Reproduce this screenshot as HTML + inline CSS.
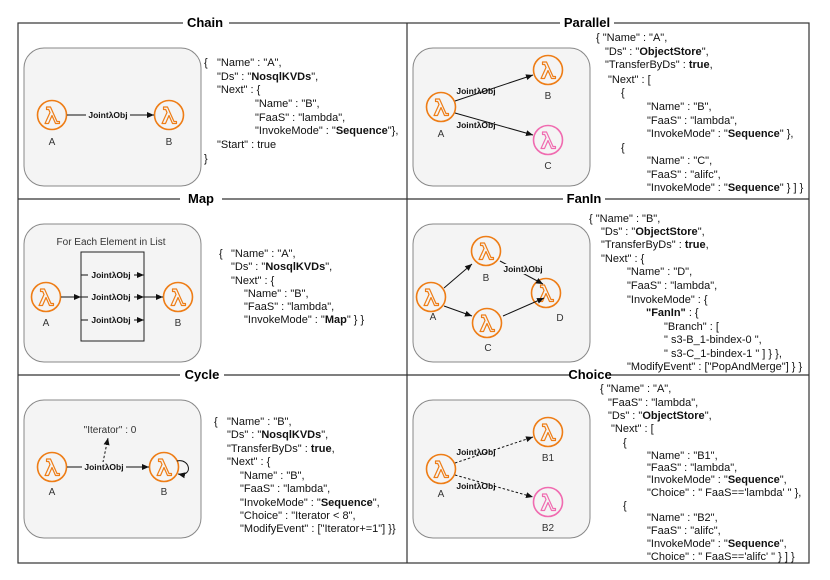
<!DOCTYPE html>
<html><head><meta charset="utf-8"><style>
html,body{margin:0;padding:0;background:#fff}
svg text{font-family:"Liberation Sans",sans-serif}
.c{font-size:11px;fill:#111}
.t{font-size:13px;font-weight:bold;fill:#000}
.l{font-size:10px;fill:#333}
.j{font-size:8.5px;font-weight:bold;fill:#111}
.box{fill:#f4f4f4;stroke:#888;stroke-width:1}
</style></head><body>
<svg width="830" height="575" viewBox="0 0 830 575" xmlns="http://www.w3.org/2000/svg">
<defs>
<marker id="ar" markerWidth="8" markerHeight="8" refX="7" refY="4" orient="auto" markerUnits="userSpaceOnUse"><path d="M0,1 L7,4 L0,7 Z" fill="#111"/></marker>
<g id="lam"><path d="M-5.5,-8 L-1.5,-8 L5,6.5 L7.5,6.5 L7.5,8.5 L3.5,8.5 L0,0.5 L-3.5,8.5 L-7,8.5 L-2,-2.5 L-3.3,-5.5 L-5.5,-5.5 Z" fill="none" stroke="currentColor" stroke-width="1.2" stroke-linejoin="round"/></g>
</defs>
<g stroke="#333" stroke-width="1.2" fill="none">
<rect x="18" y="23" width="791" height="540"/>
<line x1="407" y1="23" x2="407" y2="563"/>
<line x1="18" y1="199" x2="809" y2="199"/>
<line x1="18" y1="375" x2="809" y2="375"/>
</g>
<g class="t" text-anchor="middle">
<rect x="183" y="15" width="46" height="14" fill="#fff"/><text x="205" y="27">Chain</text>
<rect x="560" y="15" width="54" height="14" fill="#fff"/><text x="587" y="27">Parallel</text>
<rect x="180" y="191" width="42" height="14" fill="#fff"/><text x="201" y="203">Map</text>
<rect x="563" y="191" width="42" height="14" fill="#fff"/><text x="584" y="203">FanIn</text>
<rect x="180" y="367" width="44" height="14" fill="#fff"/><text x="202" y="379">Cycle</text>
<rect x="570" y="367" width="40" height="14" fill="#fff"/><text x="590" y="379">Choice</text>
</g>
<rect class="box" x="24" y="48" width="177" height="138" rx="20"/>
<rect class="box" x="413" y="48" width="177" height="138" rx="20"/>
<rect class="box" x="24" y="224" width="177" height="138" rx="20"/>
<rect class="box" x="413" y="224" width="177" height="138" rx="20"/>
<rect class="box" x="24" y="400" width="177" height="138" rx="20"/>
<rect class="box" x="413" y="400" width="177" height="138" rx="20"/>

<g fill="none" stroke-width="1.6">
<g stroke="#ee7d16" color="#ee7d16">
<circle cx="52" cy="115" r="14.5"/><use href="#lam" x="52" y="115"/>
<circle cx="169" cy="115" r="14.5"/><use href="#lam" x="169" y="115"/>
<circle cx="441" cy="107" r="14.5"/><use href="#lam" x="441" y="107"/>
<circle cx="548" cy="70" r="14.5"/><use href="#lam" x="548" y="70"/>
<circle cx="46" cy="297" r="14.5"/><use href="#lam" x="46" y="297"/>
<circle cx="178" cy="297" r="14.5"/><use href="#lam" x="178" y="297"/>
<circle cx="431" cy="297" r="14.5"/><use href="#lam" x="431" y="297"/>
<circle cx="486" cy="251" r="14.5"/><use href="#lam" x="486" y="251"/>
<circle cx="487" cy="323" r="14.5"/><use href="#lam" x="487" y="323"/>
<circle cx="546" cy="293" r="14.5"/><use href="#lam" x="546" y="293"/>
<circle cx="52" cy="467" r="14.5"/><use href="#lam" x="52" y="467"/>
<circle cx="164" cy="467" r="14.5"/><use href="#lam" x="164" y="467"/>
<circle cx="441" cy="469" r="14.5"/><use href="#lam" x="441" y="469"/>
<circle cx="548" cy="432" r="14.5"/><use href="#lam" x="548" y="432"/>
</g>
<g stroke="#f06bb0" color="#f06bb0">
<circle cx="548" cy="140" r="14.5"/><use href="#lam" x="548" y="140"/>
<circle cx="548" cy="502" r="14.5"/><use href="#lam" x="548" y="502"/>
</g>
</g>
<g class="l" text-anchor="middle">
<text x="52" y="145">A</text><text x="169" y="145">B</text>
<text x="441" y="137">A</text><text x="548" y="99">B</text><text x="548" y="169">C</text>
<text x="46" y="326">A</text><text x="178" y="326">B</text>
<text x="433" y="320">A</text><text x="486" y="281">B</text><text x="488" y="351">C</text><text x="560" y="321">D</text>
<text x="52" y="495">A</text><text x="164" y="495">B</text>
<text x="441" y="497">A</text><text x="548" y="461">B1</text><text x="548" y="531">B2</text>
</g>
<g stroke="#111" stroke-width="1" fill="none" marker-end="url(#ar)">
<line x1="67" y1="115" x2="154" y2="115"/>
<line x1="455" y1="101" x2="533" y2="75"/>
<line x1="455" y1="113" x2="533" y2="135"/>
<line x1="61" y1="297" x2="81" y2="297"/>
<line x1="144" y1="297" x2="163" y2="297"/>
<line x1="81" y1="275" x2="144" y2="275"/>
<line x1="81" y1="297" x2="144" y2="297"/>
<line x1="81" y1="320" x2="144" y2="320"/>
<line x1="444" y1="288" x2="472" y2="264"/>
<line x1="444" y1="306" x2="472" y2="316"/>
<line x1="500" y1="261" x2="543" y2="284" />
<line x1="503" y1="316" x2="544" y2="298"/>
<line x1="67" y1="467" x2="149" y2="467"/>
<path d="M177,461 C190,458 194,477 178,474"/>
</g>
<g stroke="#111" stroke-width="1" fill="none" stroke-dasharray="2.5,2" marker-end="url(#ar)">
<line x1="102" y1="467" x2="108" y2="438"/>
<line x1="455" y1="463" x2="533" y2="437"/>
<line x1="455" y1="475" x2="533" y2="497"/>
</g>
<rect x="81" y="252" width="63" height="89" fill="none" stroke="#222" stroke-width="1"/>
<g class="j" text-anchor="middle">
<rect x="86" y="110" width="44" height="10" fill="#f4f4f4"/><text x="108" y="118">JointλObj</text>
<text x="476" y="94">JointλObj</text><text x="476" y="128">JointλObj</text>
<rect x="88" y="270" width="46" height="10" fill="#f4f4f4"/><text x="111" y="278">JointλObj</text>
<rect x="88" y="292" width="46" height="10" fill="#f4f4f4"/><text x="111" y="300">JointλObj</text>
<rect x="88" y="315" width="46" height="10" fill="#f4f4f4"/><text x="111" y="323">JointλObj</text>
<rect x="502" y="264" width="44" height="10" fill="#f4f4f4"/><text x="523" y="272">JointλObj</text>
<rect x="82" y="462" width="44" height="10" fill="#f4f4f4"/><text x="104" y="470">JointλObj</text>
<text x="476" y="455">JointλObj</text><text x="476" y="489">JointλObj</text>
</g>
<text class="l" x="111" y="245" text-anchor="middle">For Each Element in List</text>
<text class="l" x="110" y="433" text-anchor="middle" fill="#111">"Iterator" : 0</text>

<g class="c">
<text x="204" y="66">{</text>
<text x="217" y="66">"Name" : "A",</text>
<text x="217" y="80">"Ds" : "<tspan font-weight="bold">NosqlKVDs</tspan>",</text>
<text x="217" y="93">"Next" : {</text>
<text x="255" y="107">"Name" : "B",</text>
<text x="255" y="121">"FaaS" : "lambda",</text>
<text x="255" y="134">"InvokeMode" : "<tspan font-weight="bold">Sequence</tspan>"},</text>
<text x="217" y="148">"Start" : true</text>
<text x="204" y="162">}</text>
</g>
<g class="c">
<text x="596" y="41">{  "Name" : "A",</text>
<text x="605" y="55">"Ds" : "<tspan font-weight="bold">ObjectStore</tspan>",</text>
<text x="605" y="68">"TransferByDs" : <tspan font-weight="bold">true</tspan>,</text>
<text x="608" y="83">"Next" : [</text>
<text x="621" y="96">{</text>
<text x="647" y="110">"Name" : "B",</text>
<text x="647" y="124">"FaaS" : "lambda",</text>
<text x="647" y="137">"InvokeMode" : "<tspan font-weight="bold">Sequence</tspan>" },</text>
<text x="621" y="151">{</text>
<text x="647" y="164">"Name" : "C",</text>
<text x="647" y="178">"FaaS" : "alifc",</text>
<text x="647" y="191">"InvokeMode" : "<tspan font-weight="bold">Sequence</tspan>" } ] }</text>
</g>
<g class="c">
<text x="219" y="257">{</text>
<text x="231" y="257">"Name" : "A",</text>
<text x="231" y="270">"Ds" : "<tspan font-weight="bold">NosqlKVDs</tspan>",</text>
<text x="231" y="284">"Next" : {</text>
<text x="244" y="297">"Name" : "B",</text>
<text x="244" y="310">"FaaS" : "lambda",</text>
<text x="244" y="323">"InvokeMode" : "<tspan font-weight="bold">Map</tspan>" } }</text>
</g>
<g class="c">
<text x="589" y="222">{  "Name" : "B",</text>
<text x="601" y="235">"Ds" : "<tspan font-weight="bold">ObjectStore</tspan>",</text>
<text x="601" y="248">"TransferByDs" : <tspan font-weight="bold">true</tspan>,</text>
<text x="601" y="262">"Next" : {</text>
<text x="627" y="275">"Name" : "D",</text>
<text x="627" y="289">"FaaS" : "lambda",</text>
<text x="627" y="303">"InvokeMode" : {</text>
<text x="646" y="316"><tspan font-weight="bold">"FanIn"</tspan> : {</text>
<text x="664" y="330">"Branch" : [</text>
<text x="664" y="343">" s3-B_1-bindex-0 ",</text>
<text x="664" y="357">" s3-C_1-bindex-1 " ] } },</text>
<text x="627" y="370">"ModifyEvent" : ["PopAndMerge"] } }</text>
</g>
<g class="c">
<text x="214" y="425">{</text>
<text x="227" y="425">"Name" : "B",</text>
<text x="227" y="438">"Ds" : "<tspan font-weight="bold">NosqlKVDs</tspan>",</text>
<text x="227" y="452">"TransferByDs" : <tspan font-weight="bold">true</tspan>,</text>
<text x="227" y="465">"Next" : {</text>
<text x="240" y="479">"Name" : "B",</text>
<text x="240" y="492">"FaaS" : "lambda",</text>
<text x="240" y="506">"InvokeMode" : "<tspan font-weight="bold">Sequence</tspan>",</text>
<text x="240" y="519">"Choice" : "Iterator &lt; 8",</text>
<text x="240" y="532">"ModifyEvent" : ["Iterator+=1"] }}</text>
</g>
<g class="c">
<text x="600" y="392">{  "Name" : "A",</text>
<text x="608" y="406">"FaaS" : "lambda",</text>
<text x="608" y="419">"Ds" : "<tspan font-weight="bold">ObjectStore</tspan>",</text>
<text x="611" y="432">"Next" : [</text>
<text x="623" y="446">{</text>
<text x="647" y="459">"Name" : "B1",</text>
<text x="647" y="471">"FaaS" : "lambda",</text>
<text x="647" y="483">"InvokeMode" : "<tspan font-weight="bold">Sequence</tspan>",</text>
<text x="647" y="496">"Choice" : " FaaS=='lambda' " },</text>
<text x="623" y="509">{</text>
<text x="647" y="521">"Name" : "B2",</text>
<text x="647" y="534">"FaaS" : "alifc",</text>
<text x="647" y="547">"InvokeMode" : "<tspan font-weight="bold">Sequence</tspan>",</text>
<text x="647" y="560">"Choice" : " FaaS=='alifc' " } ] }</text>
</g>
</svg>
</body></html>
